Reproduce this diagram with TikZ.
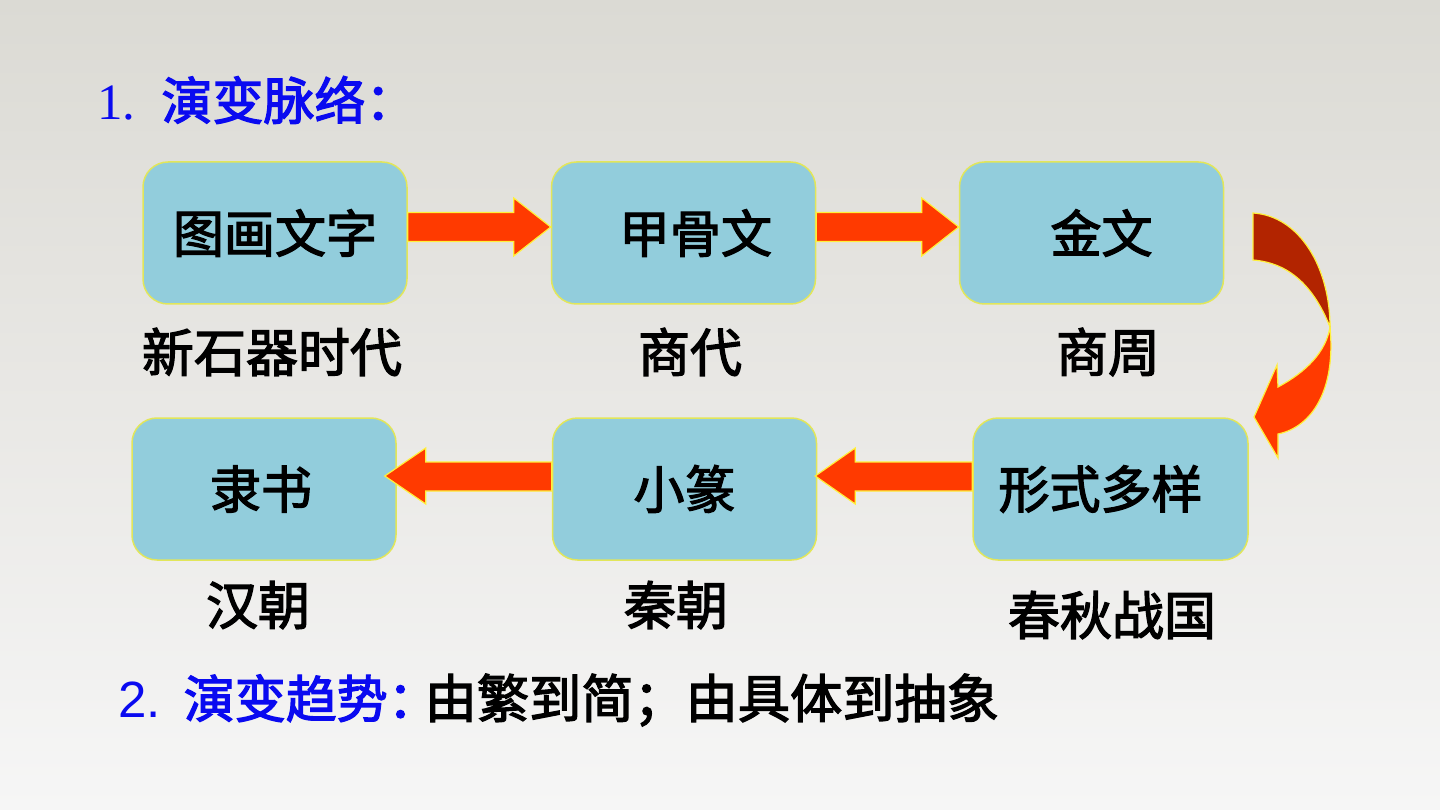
\documentclass[tikz,border=0pt]{standalone}
\usepackage{fontspec}
\setmainfont{Noto Sans CJK SC}[BoldFont={Noto Sans CJK SC},BoldFeatures={FakeBold=2.5}]
\newfontfamily\serifdigits{Liberation Serif}
\newfontfamily\sansdigits{Liberation Sans}
\usetikzlibrary{calc}
\definecolor{bgtop}{RGB}{219,218,212}
\definecolor{bgmid}{RGB}{233,232,229}
\definecolor{bgbot}{RGB}{246,246,246}
\definecolor{boxblue}{RGB}{146,205,220}
\definecolor{boxedge}{RGB}{226,230,90}
\definecolor{arrred}{RGB}{255,58,0}
\definecolor{arrdark}{RGB}{178,36,0}
\definecolor{arredge}{RGB}{255,240,60}
\definecolor{titleblue}{RGB}{10,10,240}
\tikzset{
  stage/.style={draw=boxedge, line width=1.5pt, fill=boxblue, rounded corners=25pt,
    minimum width=264pt, minimum height=142pt, inner sep=0pt,
    font=\fontsize{51}{58}\selectfont\bfseries},
  era/.style={inner sep=0pt, font=\fontsize{52}{60}\selectfont\bfseries},
  blockarr/.style={fill=arrred, draw=arredge, line width=1.2pt, line join=miter},
  blockdark/.style={fill=arrdark, draw=arredge, line width=1.2pt},
  heading/.style={inner sep=0pt, anchor=west, font=\fontsize{51}{58}\selectfont\bfseries}
}
\begin{document}
\begin{tikzpicture}[x=1pt,y=-1pt]
\useasboundingbox (0,0) rectangle (1440,810);
\shade[top color=bgtop, bottom color=bgbot, middle color=bgmid] (0,0) rectangle (1440,810);

% boxes
\node[stage] (tu) at (275,233) {\raisebox{-4pt}{图画文字}};
\node[stage] (jia) at (683.5,233) {\hspace*{24pt}\raisebox{-4pt}{甲骨文}};
\node[stage] (jin) at (1091.5,233) {\hspace*{20pt}\raisebox{-4pt}{金文}};
\node[stage] (li) at (264,489) {\hspace*{-6pt}隶书};
\node[stage] (xiao) at (684.5,489) {小篆};
\node[stage, minimum width=275pt] (xing) at (1110.5,489) {\hspace*{-20pt}形式多样};

% era labels
\node[era] (e1) at (272,352) {新石器时代};
\node[era] (e2) at (690,352) {商代};
\node[era] (e3) at (1108,352) {商周};
\node[era] (e4) at (258,605) {汉朝};
\node[era] (e5) at (676,605) {秦朝};
\node[era] (e6) at (1112,615) {春秋战国};

% right arrows
\draw[blockarr] ([yshift=20.5]tu.east) -- ([xshift=-37,yshift=20.5]jia.west) -- ([xshift=-37,yshift=35]jia.west)
  -- ([yshift=6]jia.west) -- ([xshift=-37,yshift=-23]jia.west) -- ([xshift=-37,yshift=-8.5]jia.west)
  -- ([yshift=-8.5]tu.east) -- cycle;
\draw[blockarr] ([yshift=20.5]jia.east) -- ([xshift=-37,yshift=20.5]jin.west) -- ([xshift=-37,yshift=35]jin.west)
  -- ([yshift=6]jin.west) -- ([xshift=-37,yshift=-23]jin.west) -- ([xshift=-37,yshift=-8.5]jin.west)
  -- ([yshift=-8.5]jia.east) -- cycle;

% left arrows
\draw[blockarr] ([yshift=27]xiao.west) -- ([xshift=29,yshift=27]li.east) -- ([xshift=29,yshift=41]li.east)
  -- ([xshift=-12,yshift=13]li.east) -- ([xshift=29,yshift=-15]li.east) -- ([xshift=29,yshift=-2]li.east)
  -- ([yshift=-2]xiao.west) -- cycle;
\draw[blockarr] ([yshift=27]xing.west) -- ([xshift=38,yshift=27]xiao.east) -- ([xshift=38,yshift=41]xiao.east)
  -- ([xshift=-2,yshift=13]xiao.east) -- ([xshift=38,yshift=-15]xiao.east) -- ([xshift=38,yshift=-2]xiao.east)
  -- ([yshift=-2]xing.west) -- cycle;

% curved arrow from jin to xing
\coordinate (c0) at (1253,213);
\coordinate (c1) at (1253,260);
\coordinate (cm) at (1330,327);
\draw[blockarr] (cm) .. controls (1336,390) and (1312,427) .. (1278,434)
  -- (1278,458) -- (1254,417) -- (1277,365) -- (1278,387)
  .. controls (1306,372) and (1326,352) .. (cm) -- cycle;
\draw[blockdark] (c0) .. controls (1300,216) and (1330,268) .. (cm)
  .. controls (1314,287) and (1290,263) .. (c1) -- cycle;

% headings
\node[heading, text=titleblue] (h1) at (97,100) {{\serifdigits\mdseries 1.}\hspace{26pt}演变脉络：};
\node[heading] (h2) at (118,700) {\textcolor{titleblue}{{\sansdigits\mdseries 2.}\hspace{23pt}演变趋势：}\kern-14pt {\fontsize{52.2}{60}\selectfont 由繁到简；由具体到抽象}};
\end{tikzpicture}
\end{document}
